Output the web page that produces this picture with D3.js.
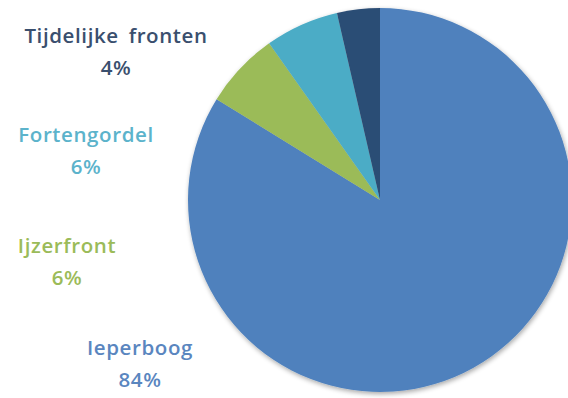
<!DOCTYPE html>
<html>
<head>
<meta charset="utf-8">
<script src="https://cdn.jsdelivr.net/npm/d3@7"></script>
<style>
  html, body { margin: 0; padding: 0; background: #fff; }
  svg { display: block; }
</style>
</head>
<body>
<svg id="chart"></svg>
<script>
const categories = ["Ieperboog", "Ijzerfront", "Fortengordel", "Tijdelijke fronten"];
const values = [83.8, 6.4, 6.2, 3.6];
const labels = ["84%", "6%", "6%", "4%"];

const colors = {
  Ieperboog: "#4f81bd",
  Ijzerfront: "#9bbb59",
  Fortengordel: "#4bacc6",
  "Tijdelijke fronten": "#2c4d75"
};
const labelColors = {
  Ieperboog: "#5a86bf",
  Ijzerfront: "#9bbb59",
  Fortengordel: "#5cb3cb",
  "Tijdelijke fronten": "#3a4f6e"
};

// hand placed label anchors (like excel's dragged data labels)
const labelAnchor = {
  Ieperboog: [140, 355],
  Ijzerfront: [67, 253],
  Fortengordel: [86, 142],
  "Tijdelijke fronten": [116, 43]
};

const width = 568, height = 398;
const cx = 380, cy = 200, radius = 192;

const svg = d3.select("#chart").attr("width", width).attr("height", height);

const defs = svg.append("defs");
const shadow = defs.append("filter").attr("id", "shadow")
  .attr("x", "-10%").attr("y", "-10%").attr("width", "120%").attr("height", "120%");
shadow.append("feGaussianBlur").attr("in", "SourceAlpha").attr("stdDeviation", 2.5);
shadow.append("feOffset").attr("dx", 1).attr("dy", 2).attr("result", "b");
shadow.append("feComponentTransfer").append("feFuncA").attr("type", "linear").attr("slope", 0.35);
const merge = shadow.append("feMerge");
merge.append("feMergeNode");
merge.append("feMergeNode").attr("in", "SourceGraphic");

const data = categories.map((c, i) => ({ name: c, value: values[i], label: labels[i] }));

const pie = d3.pie().sort(null).value(d => d.value);
const arc = d3.arc().innerRadius(0).outerRadius(radius);

const g = svg.append("g")
  .attr("transform", `translate(${cx},${cy})`)
  .attr("filter", "url(#shadow)");

g.selectAll("path.slice")
  .data(pie(data))
  .enter().append("path")
  .attr("class", "slice")
  .attr("d", arc)
  .attr("fill", d => colors[d.data.name]);

const txt = svg.selectAll("text.lbl")
  .data(data)
  .enter().append("text")
  .attr("class", "lbl")
  .attr("text-anchor", "middle")
  .attr("font-family", "'Open Sans', sans-serif")
  .attr("font-weight", 600)
  .attr("font-size", 20.5)
  .attr("letter-spacing", 0.6)
  .attr("fill", d => labelColors[d.name]);

txt.append("tspan")
  .attr("x", d => labelAnchor[d.name][0])
  .attr("y", d => labelAnchor[d.name][1])
  .attr("word-spacing", d => d.name === "Tijdelijke fronten" ? 4 : 0)
  .text(d => d.name);

txt.append("tspan")
  .attr("x", d => labelAnchor[d.name][0])
  .attr("y", d => labelAnchor[d.name][1] + 32)
  .text(d => d.label);
</script>
</body>
</html>
